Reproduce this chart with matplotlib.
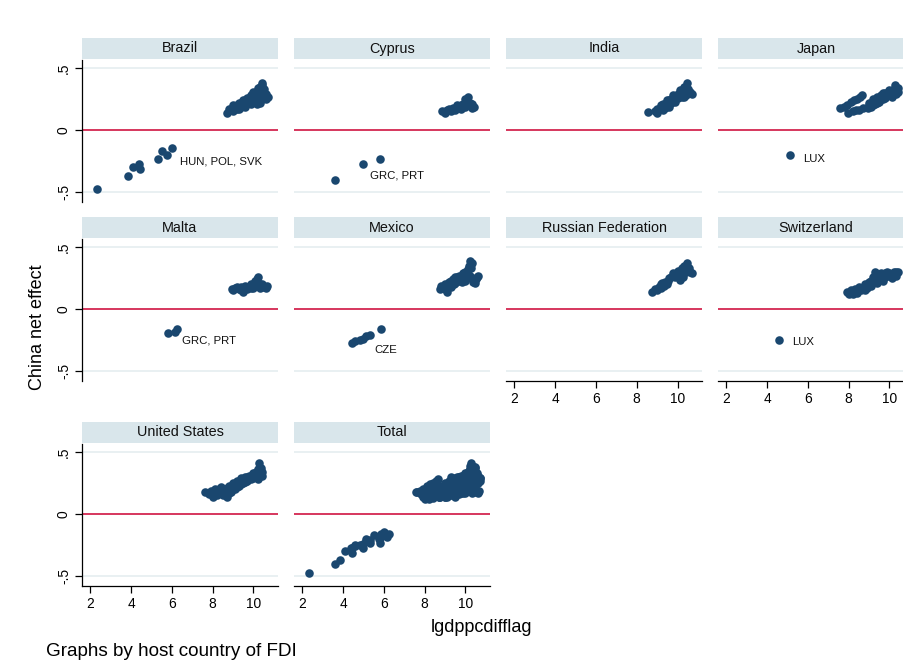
import matplotlib
matplotlib.use("Agg")
import matplotlib.pyplot as plt

plt.rcParams['font.family'] = ['Liberation Sans', 'DejaVu Sans']

# data: x = lgdppcdifflag, y = China net effect
brazil_x = [8.7, 8.9, 9.0, 9.1, 9.2, 9.3, 9.4, 9.5, 9.6, 9.7, 9.8, 9.9, 10.0, 10.1,
            10.2, 10.3, 10.4, 10.5, 10.6, 10.7, 9.0, 9.3, 9.6, 9.9, 10.2, 10.3, 10.1, 10.4,
            8.8, 9.0, 9.2, 9.4, 9.5, 9.7, 9.8, 10.0, 10.0, 10.2, 10.3, 10.4, 10.5, 10.6,
            10.35, 10.15, 9.9, 9.3,
            2.34, 3.85, 4.1, 4.4, 4.44, 5.3, 5.5, 5.75, 6.0]
brazil_y = [0.14, 0.16, 0.18, 0.17, 0.20, 0.19, 0.22, 0.21, 0.24, 0.22, 0.26, 0.25, 0.29, 0.27,
            0.32, 0.35, 0.38, 0.33, 0.29, 0.27, 0.15, 0.17, 0.19, 0.21, 0.24, 0.22, 0.30, 0.36,
            0.17, 0.20, 0.17, 0.19, 0.24, 0.26, 0.22, 0.24, 0.31, 0.34, 0.29, 0.25, 0.27, 0.25,
            0.32, 0.21, 0.28, 0.22,
            -0.476, -0.37, -0.30, -0.27, -0.31, -0.23, -0.17, -0.20, -0.145]

cyprus_x = [8.85, 9.1, 9.3, 9.5, 9.7, 9.9, 10.0, 10.1, 10.2, 10.4, 9.6, 9.8, 10.0,
            9.0, 9.2, 9.4, 9.9, 10.1, 10.3, 10.3, 10.0, 9.8,
            3.6, 4.97, 5.8]
cyprus_y = [0.15, 0.16, 0.15, 0.16, 0.18, 0.21, 0.25, 0.27, 0.22, 0.19, 0.20, 0.17, 0.19,
            0.14, 0.17, 0.18, 0.19, 0.23, 0.21, 0.18, 0.22, 0.20,
            -0.40, -0.27, -0.23]

india_x = [8.56, 8.9, 9.1, 9.2, 9.4, 9.5, 9.7, 9.8, 10.0, 10.1, 10.3, 10.45, 10.5, 10.7,
           10.4, 9.3, 9.6, 9.9, 10.2, 9.0,
           9.0, 9.3, 9.5, 9.7, 9.8, 10.0, 10.1, 10.2, 10.3, 10.4, 10.6, 10.3, 9.6, 9.4]
india_y = [0.145, 0.15, 0.17, 0.20, 0.21, 0.24, 0.25, 0.28, 0.29, 0.32, 0.35, 0.38, 0.33, 0.29,
           0.28, 0.16, 0.19, 0.23, 0.27, 0.14,
           0.17, 0.21, 0.20, 0.22, 0.25, 0.26, 0.28, 0.31, 0.31, 0.35, 0.31, 0.27, 0.24, 0.18]

japan_x = [7.6, 7.9, 8.1, 8.4, 8.65, 7.97, 8.2, 8.5, 8.7, 8.95, 9.0, 9.2, 9.3, 9.4, 9.6,
           9.5, 9.8, 9.7, 10.0, 10.0, 10.2, 10.27, 10.4, 10.3, 9.1,
           9.2, 9.4, 9.6, 9.8, 9.9, 10.1, 10.1, 10.2, 10.3, 10.4, 9.5, 9.3, 9.7, 10.0, 9.0,
           7.75, 8.25, 8.35, 8.55,
           5.13]
japan_y = [0.18, 0.20, 0.23, 0.25, 0.28, 0.14, 0.15, 0.16, 0.18, 0.18, 0.22, 0.25, 0.21, 0.27, 0.28,
           0.23, 0.30, 0.25, 0.32, 0.28, 0.33, 0.36, 0.31, 0.29, 0.19,
           0.20, 0.22, 0.25, 0.26, 0.29, 0.27, 0.31, 0.30, 0.33, 0.34, 0.26, 0.24, 0.30, 0.30, 0.20,
           0.19, 0.24, 0.16, 0.27,
           -0.20]

malta_x = [8.95, 9.1, 9.3, 9.5, 9.6, 9.8, 9.9, 10.05, 10.2, 10.3, 10.5, 10.65, 10.0, 9.4,
           9.0, 9.2, 9.4, 9.7, 9.9, 10.1, 10.15, 10.4, 10.6, 10.3, 9.6,
           5.8, 6.16, 6.26]
malta_y = [0.16, 0.17, 0.16, 0.14, 0.17, 0.18, 0.20, 0.23, 0.26, 0.20, 0.18, 0.19, 0.17, 0.18,
           0.15, 0.18, 0.15, 0.16, 0.17, 0.20, 0.24, 0.20, 0.17, 0.17, 0.19,
           -0.19, -0.185, -0.16]

mexico_x = [8.76, 8.9, 9.0, 9.1, 9.2, 9.3, 9.4, 9.5, 9.6, 9.7, 9.9, 10.0, 10.1, 10.2, 10.3,
            10.15, 10.35, 10.5, 10.6, 10.2,
            8.8, 9.0, 9.2, 9.3, 9.45, 9.5, 9.7, 9.8, 9.85, 10.0, 10.1, 10.25, 10.25, 10.45,
            10.55, 10.25, 10.0,
            4.44, 4.6, 4.83, 5.0, 5.15, 5.33, 5.85]
mexico_y = [0.16, 0.18, 0.20, 0.14, 0.22, 0.18, 0.24, 0.21, 0.26, 0.23, 0.29, 0.26, 0.32, 0.39, 0.37,
            0.35, 0.22, 0.24, 0.27, 0.27,
            0.19, 0.16, 0.19, 0.23, 0.20, 0.26, 0.27, 0.25, 0.22, 0.30, 0.28, 0.36, 0.25, 0.21,
            0.26, 0.33, 0.23,
            -0.27, -0.26, -0.25, -0.24, -0.22, -0.21, -0.16]

russia_x = [8.76, 8.9, 9.1, 9.25, 9.2, 9.4, 9.6, 9.8, 9.9, 10.0, 10.2, 10.3, 10.47, 10.6,
            10.7, 10.1, 9.5, 10.4,
            9.0, 9.2, 9.35, 9.55, 9.7, 9.85, 10.0, 10.1, 10.3, 10.4, 10.55, 10.25]
russia_y = [0.14, 0.16, 0.18, 0.21, 0.17, 0.22, 0.25, 0.29, 0.26, 0.31, 0.33, 0.30, 0.37, 0.30,
            0.29, 0.235, 0.20, 0.33,
            0.15, 0.20, 0.19, 0.23, 0.26, 0.27, 0.27, 0.30, 0.35, 0.30, 0.33, 0.26]

swiss_x = [7.92, 8.1, 8.3, 8.5, 8.2, 8.6, 8.8, 8.9, 9.0, 9.1, 9.2, 9.3, 9.4, 9.5, 9.6, 9.7,
           9.8, 10.0, 10.0, 10.2, 10.4, 10.3, 9.3,
           8.0, 8.4, 8.7, 8.8, 9.1, 9.35, 9.5, 9.6, 9.8, 9.9, 10.1, 10.1, 10.3, 9.7, 9.4,
           4.6]
swiss_y = [0.14, 0.15, 0.16, 0.18, 0.12, 0.15, 0.20, 0.17, 0.22, 0.19, 0.26, 0.22, 0.28, 0.25,
           0.29, 0.26, 0.29, 0.29, 0.27, 0.30, 0.30, 0.27, 0.30,
           0.12, 0.13, 0.16, 0.15, 0.23, 0.25, 0.28, 0.24, 0.26, 0.30, 0.28, 0.25, 0.30, 0.23, 0.21,
           -0.25]

us_x = [7.63, 7.9, 8.0, 8.1, 8.3, 8.4, 8.5, 8.6, 8.7, 8.8, 8.9, 9.0, 9.1, 9.2, 9.3, 9.4, 9.5,
        9.6, 9.7, 9.8, 9.9, 10.0, 10.1, 10.2, 10.28, 10.3, 10.4, 10.35, 10.2,
        7.8, 8.2, 8.3, 8.5, 8.6, 8.7, 8.9, 9.0, 9.2, 9.4, 9.6, 9.7, 9.9, 10.0, 10.1, 10.3,
        10.4, 10.2, 9.5, 8.8]
us_y = [0.18, 0.19, 0.14, 0.20, 0.17, 0.22, 0.15, 0.20, 0.14, 0.23, 0.18, 0.25, 0.20, 0.27, 0.23,
        0.29, 0.25, 0.30, 0.27, 0.31, 0.28, 0.33, 0.30, 0.36, 0.41, 0.33, 0.31, 0.37, 0.28,
        0.16, 0.15, 0.20, 0.20, 0.16, 0.21, 0.22, 0.20, 0.22, 0.24, 0.26, 0.30, 0.31, 0.29, 0.34, 0.37,
        0.34, 0.31, 0.28, 0.17]

countries = ["Brazil", "Cyprus", "India", "Japan", "Malta", "Mexico",
             "Russian Federation", "Switzerland", "United States"]
xs = [brazil_x, cyprus_x, india_x, japan_x, malta_x, mexico_x, russia_x, swiss_x, us_x]
ys = [brazil_y, cyprus_y, india_y, japan_y, malta_y, mexico_y, russia_y, swiss_y, us_y]

# total panel = all observations
total_x = sum(xs, [])
total_y = sum(ys, [])

# point labels (country, text, x, y)
labels = {
    "Brazil": ("HUN, POL, SVK", 6.4, -0.25),
    "Cyprus": ("GRC, PRT", 5.33, -0.37),
    "Japan": ("LUX", 5.77, -0.23),
    "Malta": ("GRC, PRT", 6.5, -0.25),
    "Mexico": ("CZE", 5.52, -0.33),
    "Switzerland": ("LUX", 5.23, -0.266),
}

W, H = 904, 663
fig = plt.figure(figsize=(W / 100, H / 100), dpi=100)

navy = '#1a476f'
red = '#cf1442'
strip_col = '#d9e6eb'
grid_col = '#e9f0f2'

col_left = [82, 294, 506, 718]
panel_w = 196
row_top = [60, 239, 444]
panel_h = 142
strip_h = 21

names = countries + ["Total"]
data_x = xs + [total_x]
data_y = ys + [total_y]

for i, name in enumerate(names):
    r, c = divmod(i, 4)
    left, top = col_left[c], row_top[r]
    ax = fig.add_axes([left / W, 1 - (top + panel_h) / H, panel_w / W, panel_h / H])
    ax.set_xlim(1.6, 11.2)
    ax.set_ylim(-0.58, 0.565)
    for gy in [-0.5, 0.5]:
        ax.axhline(gy, color=grid_col, lw=1.4, zorder=1)
    ax.axhline(0, color=red, lw=1.2, zorder=2)
    ax.scatter(data_x[i], data_y[i], s=38, color=navy, linewidths=0, zorder=3)
    if name in labels:
        t, lx, ly = labels[name]
        ax.text(lx, ly, t, fontsize=8.2, ha='left', va='center', color='#111111')

    for s in ['top', 'right']:
        ax.spines[s].set_visible(False)
    ax.spines['left'].set_visible(c == 0)
    bottom_panel = (r == 2) or (r == 1 and c >= 2)
    ax.spines['bottom'].set_visible(bottom_panel)
    ax.spines['left'].set_linewidth(0.9)
    ax.spines['bottom'].set_linewidth(0.9)

    ax.set_yticks([-0.5, 0, 0.5])
    if c == 0:
        ax.set_yticklabels(['-.5', '0', '.5'], rotation=90, va='center', fontsize=9.9)
        ax.tick_params(axis='y', length=5, width=0.9, pad=3)
    else:
        ax.tick_params(axis='y', left=False, labelleft=False)
    ax.set_xticks([2, 4, 6, 8, 10])
    if bottom_panel:
        ax.set_xticklabels(['2', '4', '6', '8', '10'], fontsize=9.9)
        ax.tick_params(axis='x', length=5, width=0.9, pad=3)
    else:
        ax.tick_params(axis='x', bottom=False, labelbottom=False)

    # strip title
    sax = fig.add_axes([left / W, 1 - (top - 1) / H, panel_w / W, strip_h / H])
    sax.set_facecolor(strip_col)
    sax.set_xticks([])
    sax.set_yticks([])
    for s in sax.spines.values():
        s.set_visible(False)
    sax.text(0.5, 0.5, name, ha='center', va='center', fontsize=10.4,
             transform=sax.transAxes, color='#111111')

fig.text(38 / W, 1 - 327 / H, "China net effect", rotation=90, ha='center', va='center',
         fontsize=13)
fig.text(482 / W, 1 - 628 / H, "lgdppcdifflag", ha='center', va='center', fontsize=13)
fig.text(46 / W, 1 - 652 / H, "Graphs by host country of FDI", ha='left', va='center',
         fontsize=13.6)

fig.savefig("out.png", dpi=100)
